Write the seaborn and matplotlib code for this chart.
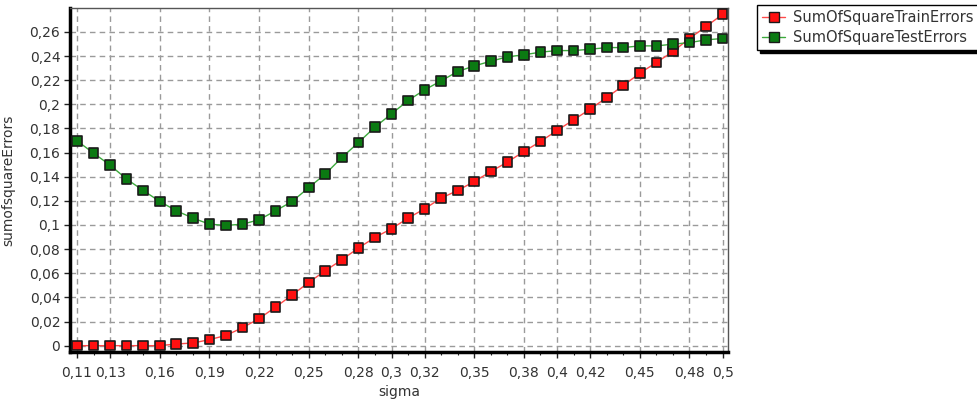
import matplotlib
matplotlib.use("Agg")
import matplotlib.pyplot as plt
from matplotlib.lines import Line2D
from matplotlib.ticker import FixedLocator, FuncFormatter
import seaborn as sns
import pandas as pd

# sigma values 0.11 .. 0.50
sigma = [0.11, 0.12, 0.13, 0.14, 0.15, 0.16, 0.17, 0.18, 0.19, 0.20,
         0.21, 0.22, 0.23, 0.24, 0.25, 0.26, 0.27, 0.28, 0.29, 0.30,
         0.31, 0.32, 0.33, 0.34, 0.35, 0.36, 0.37, 0.38, 0.39, 0.40,
         0.41, 0.42, 0.43, 0.44, 0.45, 0.46, 0.47, 0.48, 0.49, 0.50]

train_errors = [0.0, 0.0, 0.0, 0.0, 0.0, 0.0, 0.0014, 0.0022, 0.005, 0.0085,
                0.0149, 0.0224, 0.032, 0.042, 0.0524, 0.0621, 0.0712, 0.0809, 0.0897, 0.0969,
                0.1057, 0.1134, 0.1223, 0.1286, 0.136, 0.1443, 0.1521, 0.1609, 0.1692, 0.1783,
                0.1871, 0.196, 0.2056, 0.2155, 0.2258, 0.2346, 0.2437, 0.2546, 0.2644, 0.2746]

test_errors = [0.1698, 0.1595, 0.1496, 0.138, 0.1286, 0.1195, 0.1118, 0.1057, 0.1007, 0.0996,
               0.1007, 0.1043, 0.1118, 0.1195, 0.131, 0.1422, 0.1559, 0.1683, 0.1811, 0.1921,
               0.2031, 0.212, 0.2194, 0.2272, 0.2318, 0.2357, 0.2393, 0.241, 0.2432, 0.2445,
               0.2445, 0.2456, 0.247, 0.247, 0.2484, 0.2484, 0.2498, 0.2511, 0.2534, 0.2545]

series_names = ["SumOfSquareTrainErrors", "SumOfSquareTestErrors"]
x_tick_values = [0.11, 0.13, 0.16, 0.19, 0.22, 0.25, 0.28, 0.30, 0.32,
                 0.35, 0.38, 0.40, 0.42, 0.45, 0.48, 0.50]
y_tick_values = [0.0, 0.02, 0.04, 0.06, 0.08, 0.10, 0.12, 0.14,
                 0.16, 0.18, 0.20, 0.22, 0.24, 0.26]

line_colors = {"SumOfSquareTrainErrors": "#ff4a4a", "SumOfSquareTestErrors": "#3caa3c"}
fill_colors = {"SumOfSquareTrainErrors": "#ff1010", "SumOfSquareTestErrors": "#0b7a12"}

df = pd.DataFrame({
    "sigma": sigma * 2,
    "error": train_errors + test_errors,
    "series": [series_names[0]] * len(sigma) + [series_names[1]] * len(sigma),
})

sns.set_style("white")
plt.rcParams["font.family"] = ["DejaVu Sans"]

fig = plt.figure(figsize=(9.78, 4.05), dpi=100)
ax = fig.add_axes([0.0716, 0.131, 0.6725, 0.849])

sns.lineplot(data=df, x="sigma", y="error", hue="series", palette=line_colors,
             linewidth=1.0, legend=False, ax=ax, zorder=3)
sns.scatterplot(data=df, x="sigma", y="error", hue="series", palette=fill_colors,
                marker="s", s=48, edgecolor="#1a1a1a", linewidth=1.2,
                legend=False, ax=ax, zorder=4)

ax.set_xlim(0.1058, 0.5031)
ax.set_ylim(-0.0052, 0.2797)

comma = FuncFormatter(lambda v, p: f"{round(v, 2):g}".replace(".", ","))
ax.xaxis.set_major_locator(FixedLocator(x_tick_values))
ax.xaxis.set_minor_locator(FixedLocator(sigma))
ax.yaxis.set_major_locator(FixedLocator(y_tick_values))
ax.xaxis.set_major_formatter(comma)
ax.yaxis.set_major_formatter(comma)

ax.tick_params(axis="both", which="major", labelsize=10, colors="#222222",
               length=4, width=1, direction="out", labelcolor="#333333")
ax.tick_params(axis="x", which="major", pad=6)
ax.tick_params(axis="y", which="major", pad=3)
ax.tick_params(axis="x", which="minor", length=2.5, width=0.8, color="#222222",
               direction="out")
ax.tick_params(axis="x", which="both", bottom=True)
ax.tick_params(axis="y", which="both", left=True)

ax.grid(True, which="major", color="#9a9a9a", linestyle=(0, (4, 3)), linewidth=1.0)
ax.set_axisbelow(True)

for side in ["left", "bottom"]:
    ax.spines[side].set_linewidth(2.5)
    ax.spines[side].set_color("black")
for side in ["top", "right"]:
    ax.spines[side].set_linewidth(1.0)
    ax.spines[side].set_color("#555555")

ax.set_xlabel("sigma", fontsize=10, color="#333333", labelpad=4)
ax.set_ylabel("sumofsquareErrors", fontsize=10, color="#333333", labelpad=3)
ax.yaxis.set_label_coords(-0.083, 0.5)

handles = [
    Line2D([0], [0], color=line_colors[name], marker="s", markersize=7,
           markerfacecolor=fill_colors[name], markeredgecolor="#1a1a1a",
           markeredgewidth=1.0, linewidth=1.0)
    for name in series_names
]
leg = fig.legend(handles, series_names, loc="upper left",
                 bbox_to_anchor=(0.774, 0.988), fontsize=10.5, frameon=True,
                 fancybox=False, shadow={"color": "black", "alpha": 1.0},
                 edgecolor="black", handlelength=1.6, handletextpad=0.5,
                 borderpad=0.35, labelspacing=0.35, borderaxespad=0)
for t in leg.get_texts():
    t.set_color("#333333")

fig.savefig("out.png", dpi=100)
plt.close(fig)
